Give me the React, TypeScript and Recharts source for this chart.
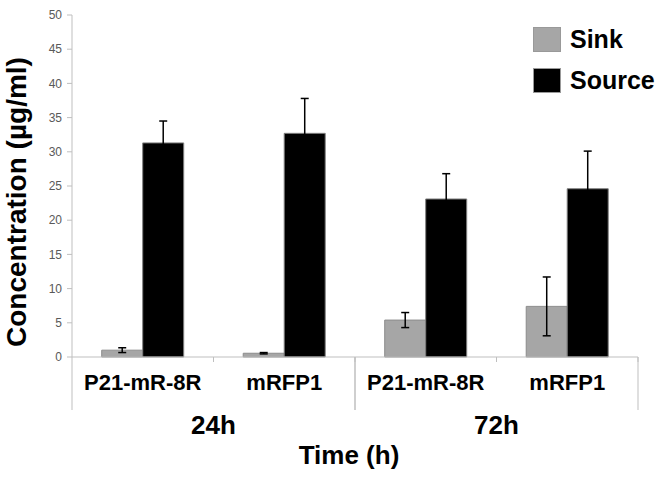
import { BarChart, Bar, XAxis, YAxis, ErrorBar } from 'recharts';

const categories = ['P21-mR-8R', 'mRFP1', 'P21-mR-8R', 'mRFP1'];
const groups = ['24h', '24h', '72h', '72h'];
const sink = [1.0, 0.55, 5.4, 7.4];
const sinkErr = [0.35, 0.1, 1.1, 4.3];
const source = [31.3, 32.7, 23.1, 24.6];
const sourceErr = [3.2, 5.1, 3.7, 5.5];
const yTicks = [0, 5, 10, 15, 20, 25, 30, 35, 40, 45, 50];
const legendItems = [
  { label: 'Sink', color: '#a6a6a6' },
  { label: 'Source', color: '#000' },
];

const data = categories.map((c, i) => ({
  name: c,
  group: groups[i],
  sink: sink[i],
  sinkErr: sinkErr[i],
  source: source[i],
  sourceErr: sourceErr[i],
}));

const FONT = '"Liberation Sans", Arial, sans-serif';
const AXIS = '#bfbfbf';

function CategoryTick(props: any) {
  const { x, y, payload, index } = props;
  const half = payload?.offset || 70.75;
  const first = index % 2 === 0;
  const lineX = first ? x - half : x + half;
  return (
    <g>
      <line x1={x + half} y1={y} x2={x + half} y2={y + 5} stroke={AXIS} />
      <line x1={lineX} y1={y} x2={lineX} y2={y + 53} stroke={AXIS} />
      <text x={x} y={y + 33} textAnchor="middle" fontFamily={FONT} fontWeight="bold" fontSize={22} fill="#000">
        {payload.value}
      </text>
      {first && (
        <text x={x + half} y={y + 77} textAnchor="middle" fontFamily={FONT} fontWeight="bold" fontSize={26} fill="#000">
          {data[index]?.group}
        </text>
      )}
    </g>
  );
}

// legend drawn as an overlay so it doesn't eat into the plot area
function LegendBox() {
  return (
    <div style={{ position: 'absolute', left: 533, top: 19, fontFamily: FONT }}>
      {legendItems.map((it) => (
        <div key={it.label} style={{ display: 'flex', alignItems: 'center', height: 41 }}>
          <div style={{ width: 28, height: 25, background: it.color, border: '1px solid #999', boxSizing: 'border-box' }} />
          <span style={{ marginLeft: 9, fontSize: 25, fontWeight: 'bold', color: '#000' }}>{it.label}</span>
        </div>
      ))}
    </div>
  );
}

export default function App() {
  return (
    <div style={{ position: 'absolute', left: 0, top: 0, width: 665, height: 478, background: '#fff' }}>
      <BarChart
        width={665}
        height={478}
        data={data}
        margin={{ top: 15, right: 27, left: 0, bottom: 0 }}
        barCategoryGap="21%"
        barGap={0}
      >
        <YAxis
          width={72}
          domain={[0, 50]}
          ticks={yTicks}
          interval={0}
          axisLine={{ stroke: AXIS }}
          tickLine={{ stroke: AXIS }}
          tickSize={5}
          tickMargin={5}
          tick={{ fontSize: 12, fill: '#595959', fontFamily: FONT }}
          label={(p: any) => {
            const vb = p.viewBox || { x: 0, y: 15, width: 72, height: 342 };
            const cx = vb.x + 26;
            const cy = vb.y + vb.height / 2 + 16;
            return (
              <text
                x={cx}
                y={cy}
                transform={`rotate(-90 ${cx} ${cy})`}
                textAnchor="middle"
                fontFamily={FONT}
                fontWeight="bold"
                fontSize={28}
                fill="#000"
              >
                Concentration (µg/ml)
              </text>
            );
          }}
        />
        <XAxis
          dataKey="name"
          height={121}
          interval={0}
          axisLine={{ stroke: AXIS }}
          tickLine={false}
          tickSize={0}
          tickMargin={0}
          tick={<CategoryTick />}
          label={(p: any) => {
            const vb = p.viewBox || { x: 72, y: 357, width: 566, height: 121 };
            return (
              <text
                x={vb.x + vb.width / 2 - 6}
                y={vb.y + 107}
                textAnchor="middle"
                fontFamily={FONT}
                fontWeight="bold"
                fontSize={26}
                fill="#000"
              >
                Time (h)
              </text>
            );
          }}
        />
        <Bar dataKey="sink" fill="#a6a6a6" stroke="#8c8c8c" strokeWidth={1} isAnimationActive={false}>
          <ErrorBar dataKey="sinkErr" width={4} stroke="#000" strokeWidth={1.5} isAnimationActive={false} />
        </Bar>
        <Bar dataKey="source" fill="#000" stroke="#7f7f7f" strokeWidth={1} isAnimationActive={false}>
          <ErrorBar dataKey="sourceErr" width={4} stroke="#000" strokeWidth={1.5} isAnimationActive={false} />
        </Bar>
      </BarChart>
      <LegendBox />
    </div>
  );
}
